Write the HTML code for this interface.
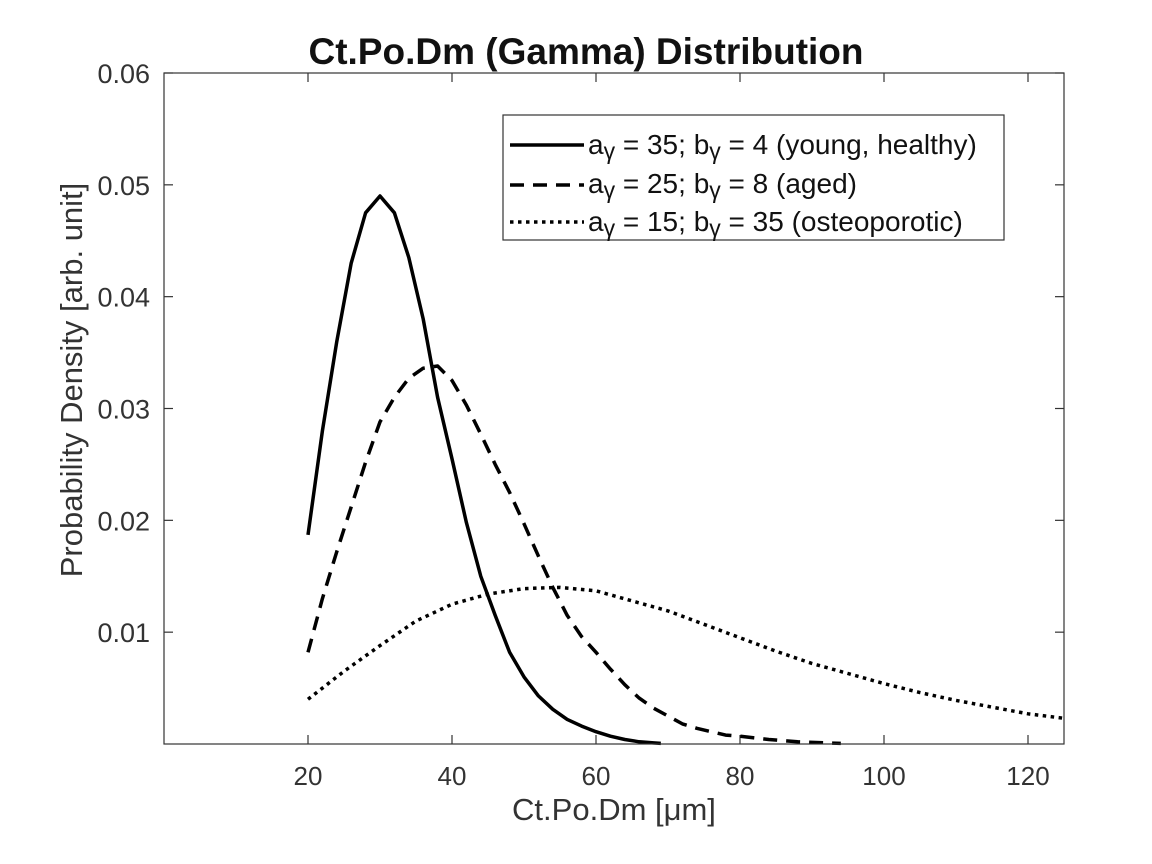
<!DOCTYPE html>
<html><head><meta charset="utf-8"><style>
body{margin:0;background:#fff;}
svg{display:block;font-family:"Liberation Sans",sans-serif;}
</style></head><body>
<svg width="1152" height="864" id="svg">
<rect width="1152" height="864" fill="#fff"/>
<text x="586" y="64" text-anchor="middle" font-size="37" font-weight="bold" fill="#111">Ct.Po.Dm (Gamma) Distribution</text>
<text x="614" y="820" text-anchor="middle" font-size="31" fill="#333">Ct.Po.Dm [μm]</text>
<text transform="translate(82,380) rotate(-90)" text-anchor="middle" font-size="31" fill="#333">Probability Density [arb. unit]</text>
<g id="grid"></g>
<g id="series"></g>
<rect x="164" y="73" width="900" height="671" fill="none" stroke="#333" stroke-width="1.2"/>
<g>
<rect x="503" y="115" width="501" height="125" fill="#fff" stroke="#333" stroke-width="1.2"/>
<line x1="510" y1="145" x2="584" y2="145" stroke="#000" stroke-width="3.5"/>
<line x1="510" y1="185" x2="584" y2="185" stroke="#000" stroke-width="3.5" stroke-dasharray="14,9"/>
<line x1="510" y1="222" x2="584" y2="222" stroke="#000" stroke-width="3.5" stroke-dasharray="3.5,4.5"/>
<text x="588" y="154" font-size="28" fill="#111">a<tspan font-size="23" dy="5">γ</tspan><tspan dy="-5"> = 35; b</tspan><tspan font-size="23" dy="5">γ</tspan><tspan dy="-5"> = 4 (young, healthy)</tspan></text>
<text x="588" y="193" font-size="28" fill="#111">a<tspan font-size="23" dy="5">γ</tspan><tspan dy="-5"> = 25; b</tspan><tspan font-size="23" dy="5">γ</tspan><tspan dy="-5"> = 8 (aged)</tspan></text>
<text x="588" y="231" font-size="28" fill="#111">a<tspan font-size="23" dy="5">γ</tspan><tspan dy="-5"> = 15; b</tspan><tspan font-size="23" dy="5">γ</tspan><tspan dy="-5"> = 35 (osteoporotic)</tspan></text>
</g>
</svg>
<script>
const xTicks=[20,40,60,80,100,120];
const yTicks=[0.01,0.02,0.03,0.04,0.05,0.06];
const yTickLabels=["0.01","0.02","0.03","0.04","0.05","0.06"];
const youngX=[20,22,24,26,28,30,32,34,36,38,40,42,44,46,48,50,52,54,56,58,60,62,64,66,68,69];
const youngY=[.0187,.028,.036,.043,.0475,.049,.0475,.0435,.038,.031,.0255,.0198,.015,.0115,.0082,.006,.0043,.0031,.0022,.0016,.0011,.0007,.0004,.0002,.0001,.00005];
const agedX=[20,22,24,26,28,30,32,34,36,38,40,42,44,46,48,50,52,54,56,58,60,62,64,66,68,70,72,74,76,78,80,84,88,92,94];
const agedY=[.0082,.013,.0172,.0212,.0252,.0288,.031,.0327,.0336,.0338,.0325,.0303,.0277,.025,.0225,.0197,.0168,.014,.0115,.0096,.0082,.0067,.0053,.0041,.0032,.0025,.0018,.0014,.0011,.0008,.0007,.0004,.0002,.0001,.00005];
const osteoX=[20,25,30,35,40,45,50,55,60,65,70,75,80,85,90,95,100,105,110,115,120,125];
const osteoY=[.004,.0065,.0088,.011,.0125,.0134,.0139,.014,.0137,.0128,.0119,.0107,.0095,.0083,.0072,.0063,.0054,.0046,.0039,.0033,.0027,.0023];
const NS="http://www.w3.org/2000/svg";
const L=164,R=1064,T=73,B=744,XMIN=0,XMAX=125,YMIN=0,YMAX=0.06;
function sx(v){return L+(v-XMIN)/(XMAX-XMIN)*(R-L);}
function sy(v){return B-(v-YMIN)/(YMAX-YMIN)*(B-T);}
const grid=document.getElementById('grid');
function mk(tag,attrs,parent){const e=document.createElementNS(NS,tag);for(const k in attrs)e.setAttribute(k,attrs[k]);parent.appendChild(e);return e;}
xTicks.forEach(v=>{
 const t=mk('line',{x1:sx(v),x2:sx(v),y1:B,y2:B-9,stroke:'#333','stroke-width':1.2},grid);
 
 
 const t2=mk('line',{x1:sx(v),x2:sx(v),y1:T,y2:T+9,stroke:'#333','stroke-width':1.2},grid);
 
 
 const lb=mk('text',{x:sx(v),y:B+41,'text-anchor':'middle','font-size':26,fill:'#333'},grid);
 lb.textContent=String(v);
 
 
});
yTicks.forEach((v,i)=>{
 const t=mk('line',{x1:L,x2:L+9,y1:sy(v),y2:sy(v),stroke:'#333','stroke-width':1.2},grid);
 
 
 const t2=mk('line',{x1:R,x2:R-9,y1:sy(v),y2:sy(v),stroke:'#333','stroke-width':1.2},grid);
 
 
 const lb=mk('text',{x:L-14,y:sy(v)+10,'text-anchor':'end','font-size':27,fill:'#333'},grid);
 lb.textContent=yTickLabels[i];
 
 
});
const ser=document.getElementById('series');
function line(xs,ys,dash,name){
 const d=xs.map((x,i)=>(i?'L':'M')+sx(x).toFixed(1)+','+sy(ys[i]).toFixed(1)).join(' ');
 const p=mk('path',{d:d,fill:'none',stroke:'#000','stroke-width':3.5,'stroke-linejoin':'round'},ser);
 if(dash)p.setAttribute('stroke-dasharray',dash);
 
 
}
line(osteoX,osteoY,'3.5,4.5','series-osteoporotic');
line(agedX,agedY,'14,9','series-aged');
line(youngX,youngY,null,'series-young-healthy');
</script>
</body></html>
